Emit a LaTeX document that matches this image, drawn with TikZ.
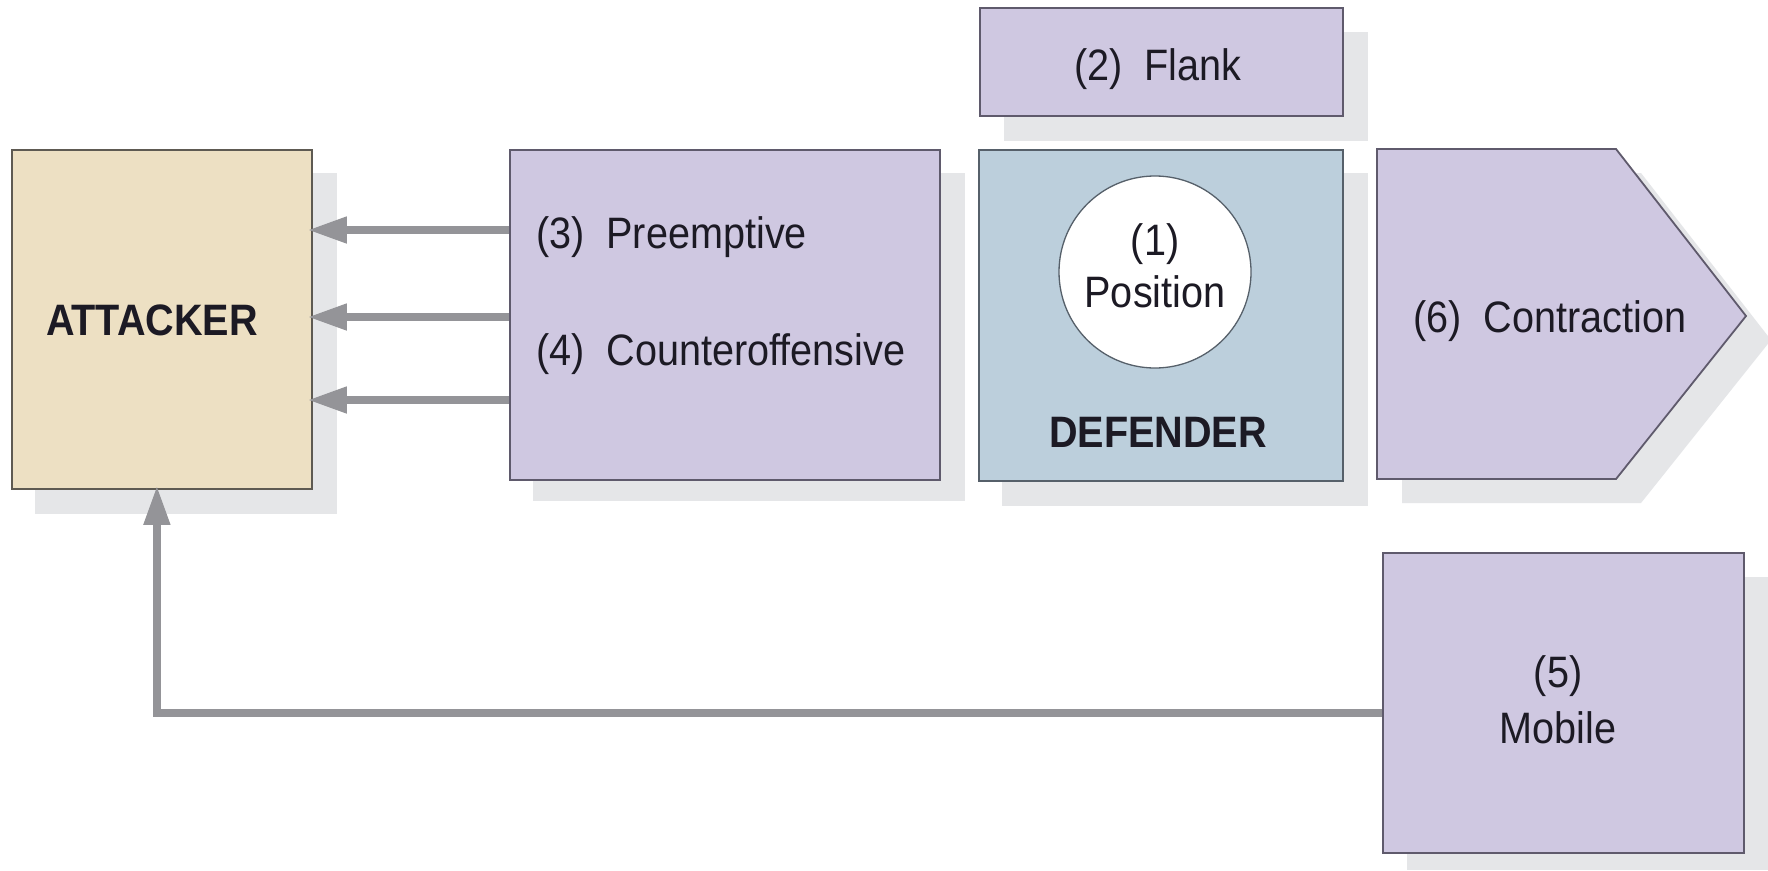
\documentclass[tikz,border=0pt]{standalone}
\usepackage{fontspec}
\setmainfont{Liberation Sans}[FakeStretch=0.9]
\usetikzlibrary{arrows.meta,backgrounds}
\definecolor{attfill}{HTML}{EDE0C3}
\definecolor{attline}{HTML}{5E5A52}
\definecolor{purfill}{HTML}{CFC8E1}
\definecolor{purline}{HTML}{5F5A6C}
\definecolor{deffill}{HTML}{BCCFDC}
\definecolor{defline}{HTML}{56606A}
\definecolor{shadowgrey}{HTML}{E5E6E8}
\definecolor{arrowgrey}{HTML}{949498}
\definecolor{txt}{HTML}{1C1A24}
\newcommand{\lblfont}{\fontsize{44}{52}\selectfont}
\begin{document}
\begin{tikzpicture}[x=1pt,y=-1pt,
  box/.style={draw, line width=1.8pt, inner sep=0pt, anchor=north west},
  attbox/.style={box, fill=attfill, draw=attline},
  purbox/.style={box, fill=purfill, draw=purline},
  defbox/.style={box, fill=deffill, draw=defline},
  lbl/.style={inner sep=0pt, text=txt, font=\lblfont},
  blbl/.style={lbl, font=\lblfont\bfseries},
  shadow/.style={fill=shadowgrey},
  conn/.style={draw=arrowgrey, line width=7.5pt, -{Triangle[length=39pt,width=25pt]}}
]
\useasboundingbox (0,0) rectangle (1768,870);

% boxes
\node[attbox, minimum width=300pt, minimum height=339pt] (att) at (11,149) {};
\node[purbox, minimum width=430pt, minimum height=330pt] (p34) at (509,149) {};
\node[purbox, minimum width=363pt, minimum height=108pt] (flank) at (979,7) {};
\node[defbox, minimum width=364pt, minimum height=331pt] (def) at (978,149) {};
\node[purbox, minimum width=361pt, minimum height=300pt] (mob) at (1382,552) {};

% contraction pentagon
\coordinate (c1) at (1377,149);
\coordinate (c2) at (1616,149);
\coordinate (c3) at (1746,316);
\coordinate (c4) at (1616,479);
\coordinate (c5) at (1377,479);
\draw[fill=purfill, draw=purline, line width=1.8pt, line join=miter] (c1) -- (c2) -- (c3) -- (c4) -- (c5) -- cycle;

% circle
\node[circle, draw=defline, fill=white, line width=1.3pt, minimum size=192pt, inner sep=0pt] (pos) at (1155,272) {};

% labels
\node[blbl, anchor=base] (attl) at (152,335) {ATTACKER};
\node[lbl, anchor=base west] (pre) at (536,248) {(3)\ \ Preemptive};
\node[lbl, anchor=base west] (cou) at (536,365) {(4)\ \ Counteroffensive};
\node[lbl, anchor=base] (flankl) at (1158,80) {(2)\ \ Flank};
\node[lbl, anchor=base] (posa) at (1155,255) {(1)};
\node[lbl, anchor=base] (posb) at (1155,307) {Position};
\node[blbl, anchor=base] (defl) at (1158,447) {DEFENDER};
\node[lbl, anchor=base west] (conl) at (1413,332) {(6)\ \ Contraction};
\node[lbl, anchor=base] (moba) at (1558,687) {(5)};
\node[lbl, anchor=base] (mobb) at (1558,743) {Mobile};

% shadows
\begin{scope}[on background layer]
  \fill[white] (0,0) rectangle (1768,870);
  \fill[shadow] ([shift={(24pt,-24pt)}]att.north west) rectangle ([shift={(24pt,-24pt)}]att.south east);
  \fill[shadow] ([shift={(24pt,-24pt)}]p34.north west) rectangle ([shift={(24pt,-20pt)}]p34.south east);
  \fill[shadow] ([shift={(25pt,-25pt)}]flank.north west) rectangle ([shift={(24pt,-24pt)}]flank.south east);
  \fill[shadow] ([shift={(24pt,-24pt)}]def.north west) rectangle ([shift={(24pt,-24pt)}]def.south east);
  \fill[shadow] ([shift={(25pt,-25pt)}]mob.north west) rectangle (1768,870);
  \fill[shadow] ([shift={(25pt,-24pt)}]c1) -- ([shift={(25pt,-24pt)}]c2) -- ([shift={(25pt,-24pt)}]c3) -- ([shift={(25pt,-24pt)}]c4) -- ([shift={(25pt,-24pt)}]c5) -- cycle;
\end{scope}

% connectors
\draw[conn, shorten >=-5pt] (p34.west |- 0,230) -- (att.east |- 0,230);
\draw[conn, shorten >=-5pt] (p34.west |- 0,317) -- (att.east |- 0,317);
\draw[conn, shorten >=-5pt] (p34.west |- 0,400) -- (att.east |- 0,400);
\draw[conn, shorten >=-4pt] ([yshift=-10pt]mob.west) -| ([xshift=-5pt]att.south);
\end{tikzpicture}
\end{document}
